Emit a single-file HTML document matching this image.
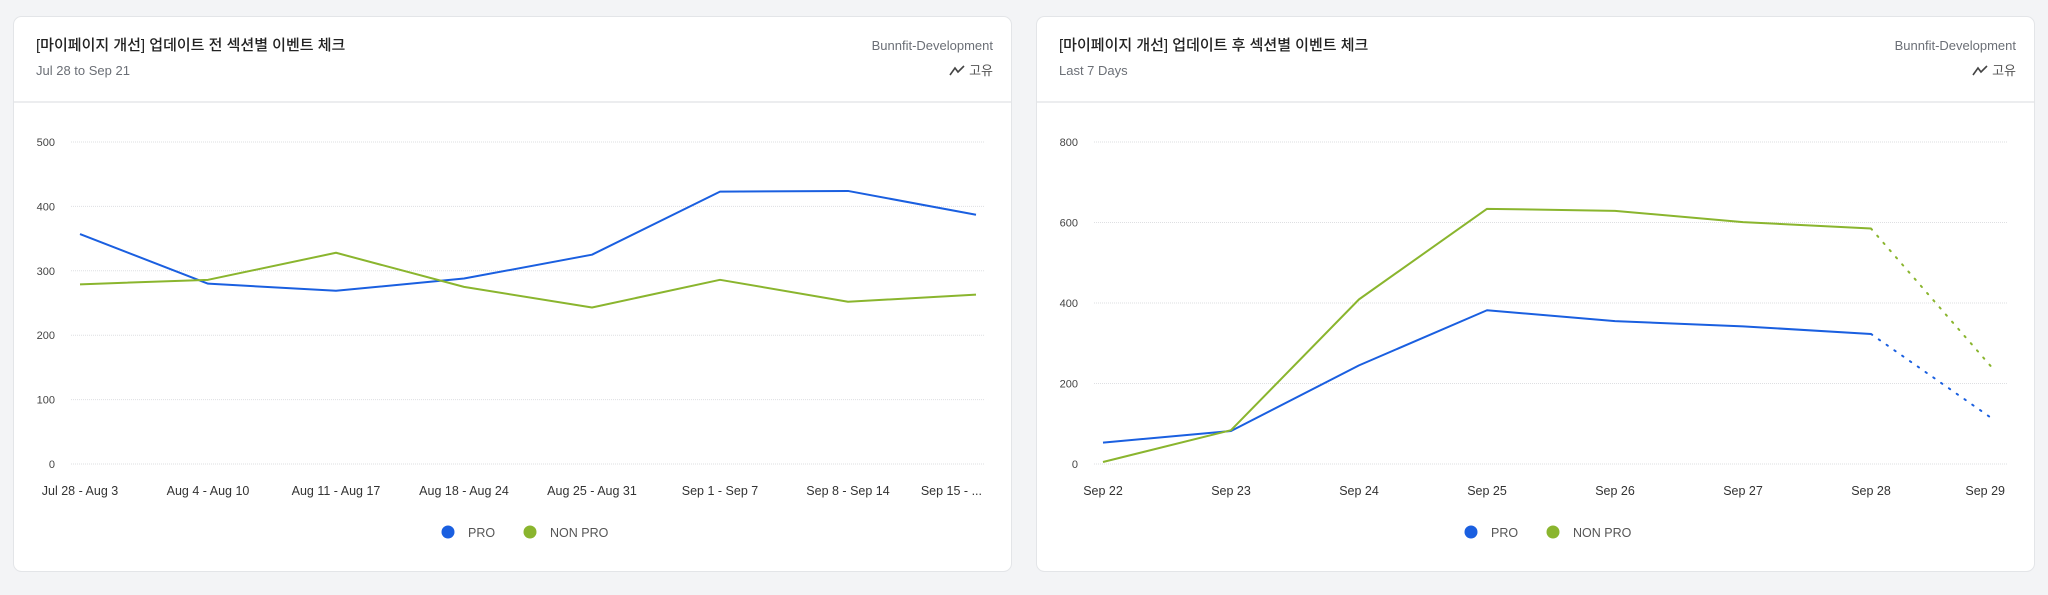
<!DOCTYPE html>
<html><head><meta charset="utf-8"><style>
html,body{margin:0;padding:0;background:#f3f4f6;width:2048px;height:595px;overflow:hidden;font-family:"Liberation Sans","Noto Sans CJK KR",sans-serif;}
svg{display:block}
</style></head><body>
<svg width="2048" height="595">
<g id="c1"></g>
<g id="c2"></g>
</svg>
<script>
const NS='http://www.w3.org/2000/svg';
// Chart 1 data
const cats1=['Jul 28 - Aug 3','Aug 4 - Aug 10','Aug 11 - Aug 17','Aug 18 - Aug 24','Aug 25 - Aug 31','Sep 1 - Sep 7','Sep 8 - Sep 14','Sep 15 - ...'];
const pro1=[357,280,269,288,325,423,424,387];
const non1=[279,286,328,275,243,286,252,263];
const ticks1=[0,100,200,300,400,500];
// Chart 2 data
const cats2=['Sep 22','Sep 23','Sep 24','Sep 25','Sep 26','Sep 27','Sep 28','Sep 29'];
const pro2=[53,82,245,382,355,342,323,108];
const non2=[5,84,409,634,629,601,585,231];
const ticks2=[0,200,400,600,800];

function el(parent,tag,attrs,text){const e=document.createElementNS(NS,tag);for(const k in attrs)e.setAttribute(k,attrs[k]);if(text!==undefined)e.textContent=text;parent.appendChild(e);return e;}

function drawCard(g,ox,title,sub,cats,pro,non,ticks,ymax,dottedLast){
  const card=el(g,'rect',{x:ox+0.5,y:16.5,width:998,height:555,rx:8,fill:'#fff',stroke:'#e3e5e8'});
  
  
  const t=el(g,'text',{x:ox+23,y:50,'font-size':15,fill:'#222','font-weight':'500'},title);
  
  
  const s=el(g,'text',{x:ox+23,y:75,'font-size':13,fill:'#6b6f76'},sub);
  
  
  const p=el(g,'text',{x:ox+980,y:50,'font-size':13,fill:'#6b6f76','text-anchor':'end'},'Bunnfit-Development');
  
  
  const ic=el(g,'polyline',{points:`${ox+937},75 ${ox+942},68 ${ox+945},72 ${ox+951},66`,fill:'none',stroke:'#444','stroke-width':1.6});
  
  
  const u=el(g,'text',{x:ox+980,y:75,'font-size':13,fill:'#555','text-anchor':'end'},'고유');
  
  
  const dv=el(g,'line',{x1:ox+1,x2:ox+998,y1:102,y2:102,stroke:'#e6e7ea','stroke-width':1.5});
  
  
  const y0=464,y1=142;
  const ys=v=>y0-(v/ymax)*(y0-y1);
  const gl=ox+58,gr=ox+971;
  const x0=ox+67,x1=ox+963;
  const xs=i=>x0+i*(x1-x0)/(cats.length-1);
  ticks.forEach(v=>{
    const l=el(g,'line',{x1:gl,x2:gr,y1:ys(v),y2:ys(v),stroke:'#dedfe2','stroke-width':1,'stroke-dasharray':'1 1'});
    
    
    const tx=el(g,'text',{x:ox+42,y:ys(v)+4,'font-size':11,fill:'#444','text-anchor':'end'},String(v));
    
    
  });
  cats.forEach((c,i)=>{
    let x=xs(i),anchor='middle';
    if(i===cats.length-1){x=ox+969;anchor='end';}
    const tx=el(g,'text',{x:x,y:495,'font-size':12.5,fill:'#333','text-anchor':anchor},c);
    
    
  });
  [[pro,'#1a5fe0','pro'],[non,'#8ab52e','non-pro']].forEach(([d,col,n])=>{
    const n1=dottedLast?d.length-1:d.length;
    const pts=d.slice(0,n1).map((v,i)=>xs(i)+','+ys(v)).join(' ');
    const pl=el(g,'polyline',{points:pts,fill:'none',stroke:col,'stroke-width':2,'stroke-linejoin':'round'});
    
    
    if(dottedLast){
      const k=d.length-1;
      const dl=el(g,'line',{x1:xs(k-1),y1:ys(d[k-1]),x2:xs(k)-4,y2:ys(d[k]),stroke:col,'stroke-width':2,'stroke-dasharray':'1.5 8','stroke-linecap':'round'});
      
      
    }
  });
  const lg=[[ox+435,'#1a5fe0','PRO'],[ox+517,'#8ab52e','NON PRO']];
  lg.forEach(([x,col,lab])=>{
    const c=el(g,'circle',{cx:x,cy:532,r:6.5,fill:col});
    
    
    const tx=el(g,'text',{x:x+20,y:537,'font-size':12.5,fill:'#555'},lab);
    
    
  });
}
drawCard(document.getElementById('c1'),13,'[마이페이지 개선] 업데이트 전 섹션별 이벤트 체크','Jul 28 to Sep 21',cats1,pro1,non1,ticks1,500,false);
drawCard(document.getElementById('c2'),1036,'[마이페이지 개선] 업데이트 후 섹션별 이벤트 체크','Last 7 Days',cats2,pro2,non2,ticks2,800,true);
</script>
</body></html>
